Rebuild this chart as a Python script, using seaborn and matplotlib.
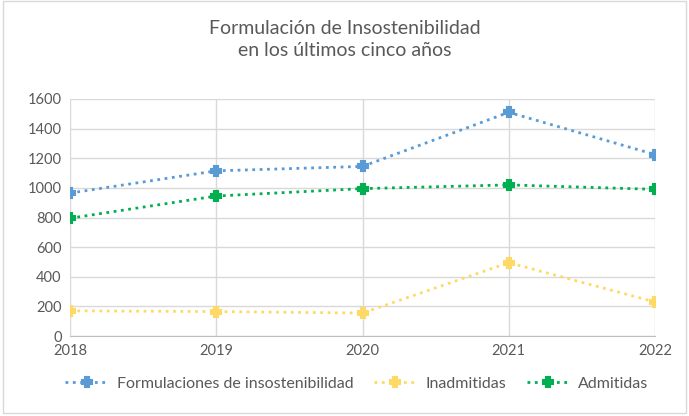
import matplotlib
matplotlib.use("Agg")
import matplotlib.pyplot as plt
import matplotlib.patches as patches
import seaborn as sns
import pandas as pd

# Data
years = [2018, 2019, 2020, 2021, 2022]
formulaciones = [965, 1115, 1145, 1510, 1225]
inadmitidas = [170, 165, 155, 495, 230]
admitidas = [795, 945, 995, 1020, 990]

series_names = ["Formulaciones de insostenibilidad", "Inadmitidas", "Admitidas"]
colors = {"Formulaciones de insostenibilidad": "#5B9BD5",
          "Inadmitidas": "#FFD966",
          "Admitidas": "#00B050"}

df = pd.DataFrame({
    "Año": years * 3,
    "Valor": formulaciones + inadmitidas + admitidas,
    "Serie": [series_names[0]] * 5 + [series_names[1]] * 5 + [series_names[2]] * 5,
})

sns.set_style("white")
plt.rcParams["font.family"] = ["Lato", "DejaVu Sans"]

fig = plt.figure(figsize=(6.89, 4.16), dpi=100)
ax = fig.add_axes([70 / 689, 80 / 416, 585 / 689, 237 / 416])

for name in series_names:
    sub = df[df["Serie"] == name]
    sns.lineplot(data=sub, x="Año", y="Valor", ax=ax, color=colors[name],
                 linestyle=":", linewidth=2, marker="P", markersize=7,
                 markeredgecolor=colors[name], markeredgewidth=1.5, label=name)

ax.set_xlim(2018, 2022)
ax.set_ylim(0, 1600)
ax.set_xticks(years)
ax.set_yticks(range(0, 1601, 200))
ax.grid(True, color="#D9D9D9", linewidth=1)
ax.set_axisbelow(True)
for s in ["top", "right", "left"]:
    ax.spines[s].set_visible(False)
ax.spines["bottom"].set_color("#BFBFBF")
ax.tick_params(axis="both", colors="#595959", labelsize=10.5, length=0, pad=6)
ax.set_xlabel("")
ax.set_ylabel("")

ax.legend(loc="upper center", bbox_to_anchor=(0.49, -0.11), ncol=3, frameon=False,
          fontsize=11.5, labelcolor="#595959", handlelength=2.7, handletextpad=0.5,
          columnspacing=1.3)

fig.text(0.5, 0.905, "Formulación de Insostenibilidad\nen los últimos cinco años",
         ha="center", va="center", fontsize=14, color="#595959", linespacing=1.3)

fig.patches.append(patches.Rectangle((0.004, 0.008), 0.992, 0.99, transform=fig.transFigure,
                                     fill=False, edgecolor="#D9D9D9", linewidth=1))

fig.savefig("out.png", dpi=100)
